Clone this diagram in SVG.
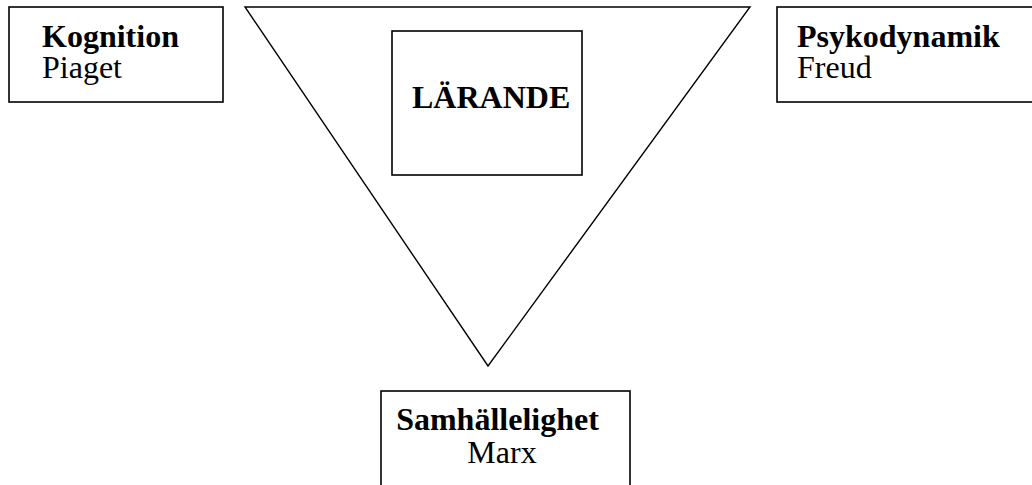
<svg xmlns="http://www.w3.org/2000/svg" width="1032" height="485" viewBox="0 0 1032 485">
<style>
.box{fill:#fff;stroke:#000;stroke-width:1.6}
.tri{fill:none;stroke:#000;stroke-width:1.4}
.b{font-family:"Liberation Serif","Times New Roman",serif;font-size:32px;font-weight:bold;fill:#000}
.r{font-family:"Liberation Serif","Times New Roman",serif;font-size:32px;fill:#000}
</style>
<rect width="1032" height="485" fill="#fff"/>
<g id="connectors">
<polygon class="tri" points="245,7 750,7 488,366"/>
</g>
<g id="kognition">
<rect class="box" x="9" y="7" width="214" height="95"/>
<text class="b" x="42" y="47">Kognition</text>
<text class="r" x="42" y="78">Piaget</text>
</g>
<g id="psykodynamik">
<rect class="box" x="777" y="7" width="270" height="95"/>
<text class="b" x="797" y="47">Psykodynamik</text>
<text class="r" x="797" y="78">Freud</text>
</g>
<g id="larande">
<rect class="box" x="392" y="31" width="190" height="144"/>
<text class="b" x="412" y="108">LÄRANDE</text>
</g>
<g id="samhallelighet">
<rect class="box" x="381" y="391" width="249" height="110"/>
<text class="b" x="497.5" y="430" text-anchor="middle">Samhällelighet</text>
<text class="r" x="502" y="463" text-anchor="middle">Marx</text>
</g>
</svg>
